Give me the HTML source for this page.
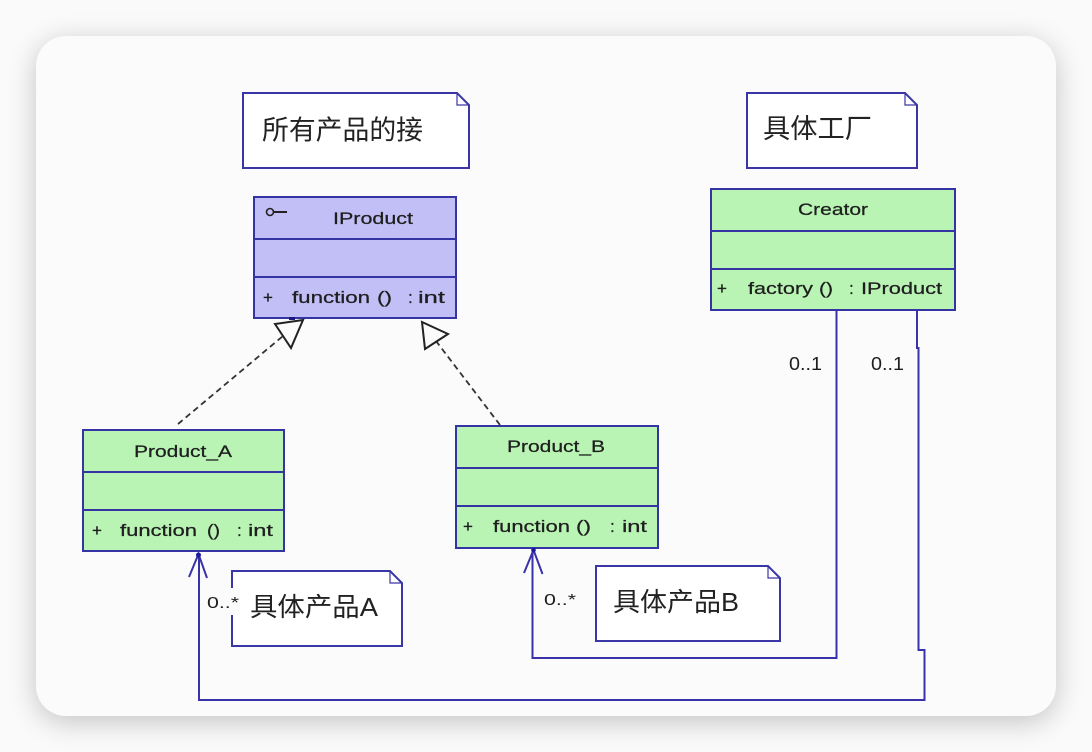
<!DOCTYPE html>
<html>
<head>
<meta charset="utf-8">
<style>
  html,body{margin:0;padding:0;}
  body{width:1092px;height:752px;background:#fafafa;position:relative;overflow:hidden;}
  .card{position:absolute;left:36px;top:36px;width:1020px;height:680px;border-radius:30px;background:#fbfbfb;box-shadow:0 6px 28px rgba(0,0,0,0.22);}
  svg{position:absolute;left:0;top:0;}
  .t{font-family:"Liberation Sans","Noto Sans CJK SC",sans-serif;fill:#1e1e1e;}
  .c{font-size:17px;stroke:#1e1e1e;stroke-width:0.25px;}
  .cjk{font-family:"Liberation Sans","Noto Sans CJK SC",sans-serif;fill:#222;}
</style>
</head>
<body>
<div class="card"></div>
<svg width="1092" height="752" viewBox="0 0 1092 752" xmlns="http://www.w3.org/2000/svg">
  <!-- Notes top -->
  <g fill="#ffffff" stroke="#3a36a6" stroke-width="2">
    <polygon points="243,93 457,93 469,105 469,168 243,168"/>
    <polyline points="457,93 457,105 469,105" fill="none" stroke-width="1.2"/>
    <polygon points="747,93 905,93 917,105 917,168 747,168"/>
    <polyline points="905,93 905,105 917,105" fill="none" stroke-width="1.2"/>
  </g>
  <text class="cjk" x="262" y="139.5" font-size="27" textLength="161" lengthAdjust="spacingAndGlyphs">所有产品的接</text>
  <text class="cjk" x="763" y="138" font-size="27" textLength="109" lengthAdjust="spacingAndGlyphs">具体工厂</text>

  <!-- IProduct -->
  <g stroke="#3434a4" stroke-width="2">
    <rect x="254" y="197" width="202" height="121" fill="#c2bef6"/>
    <line x1="254" y1="239" x2="456" y2="239"/>
    <line x1="254" y1="277" x2="456" y2="277"/>
  </g>
  <circle cx="270" cy="212" r="3.5" fill="none" stroke="#222" stroke-width="1.6"/>
  <line x1="273.5" y1="212" x2="287" y2="212" stroke="#222" stroke-width="2"/>
  <text class="t c" x="333" y="224" textLength="80" lengthAdjust="spacingAndGlyphs">IProduct</text>
  <text class="t c" x="263" y="303">+</text>
  <text class="t c" x="292" y="303" textLength="78" lengthAdjust="spacingAndGlyphs">function</text>
  <text class="t c" x="377" y="303" textLength="15" lengthAdjust="spacingAndGlyphs">()</text>
  <text class="t c" x="408" y="303">:</text>
  <text class="t c" x="418" y="303" textLength="27" lengthAdjust="spacingAndGlyphs">int</text>

  <!-- Creator -->
  <g stroke="#3434a4" stroke-width="2">
    <rect x="711" y="189" width="244" height="121" fill="#b9f4b4"/>
    <line x1="711" y1="231" x2="955" y2="231"/>
    <line x1="711" y1="269" x2="955" y2="269"/>
  </g>
  <text class="t c" x="798" y="215" textLength="70" lengthAdjust="spacingAndGlyphs">Creator</text>
  <text class="t c" x="717" y="294">+</text>
  <text class="t c" x="748" y="294" textLength="65" lengthAdjust="spacingAndGlyphs">factory</text>
  <text class="t c" x="819" y="294" textLength="14" lengthAdjust="spacingAndGlyphs">()</text>
  <text class="t c" x="849" y="294">:</text>
  <text class="t c" x="861" y="294" textLength="81" lengthAdjust="spacingAndGlyphs">IProduct</text>

  <!-- Product_A -->
  <g stroke="#3434a4" stroke-width="2">
    <rect x="83" y="430" width="201" height="121" fill="#b9f4b4"/>
    <line x1="83" y1="472" x2="284" y2="472"/>
    <line x1="83" y1="510" x2="284" y2="510"/>
  </g>
  <text class="t c" x="134" y="457" textLength="98" lengthAdjust="spacingAndGlyphs">Product_A</text>
  <text class="t c" x="92" y="536">+</text>
  <text class="t c" x="120" y="536" textLength="77" lengthAdjust="spacingAndGlyphs">function</text>
  <text class="t c" x="207" y="536" textLength="13" lengthAdjust="spacingAndGlyphs">()</text>
  <text class="t c" x="237" y="536">:</text>
  <text class="t c" x="248" y="536" textLength="25" lengthAdjust="spacingAndGlyphs">int</text>

  <!-- Product_B -->
  <g stroke="#3434a4" stroke-width="2">
    <rect x="456" y="426" width="202" height="122" fill="#b9f4b4"/>
    <line x1="456" y1="468" x2="658" y2="468"/>
    <line x1="456" y1="506" x2="658" y2="506"/>
  </g>
  <text class="t c" x="507" y="452" textLength="98" lengthAdjust="spacingAndGlyphs">Product_B</text>
  <text class="t c" x="463" y="532">+</text>
  <text class="t c" x="493" y="532" textLength="77" lengthAdjust="spacingAndGlyphs">function</text>
  <text class="t c" x="576" y="532" textLength="15" lengthAdjust="spacingAndGlyphs">()</text>
  <text class="t c" x="610" y="532">:</text>
  <text class="t c" x="622" y="532" textLength="25" lengthAdjust="spacingAndGlyphs">int</text>

  <!-- Realization dashed lines + hollow triangles -->
  <g stroke="#333" stroke-width="1.8" stroke-dasharray="6,4" fill="none">
    <line x1="178" y1="424" x2="283" y2="336"/>
    <line x1="500" y1="425" x2="436" y2="341"/>
  </g>
  <g stroke="#222" stroke-width="2" fill="#fbfbfb" stroke-linejoin="miter">
    <polygon points="275,324 291,348 303,320"/>
    <polygon points="448,334 425,349 422,322"/>
  </g>
  <rect x="289" y="317" width="6" height="3" fill="#1a1a80"/>

  <!-- Bottom notes -->
  <g fill="#ffffff" stroke="#3a36a6" stroke-width="2">
    <polygon points="232,571 390,571 402,583 402,646 232,646"/>
    <polyline points="390,571 390,583 402,583" fill="none" stroke-width="1.2"/>
    <polygon points="596,566 768,566 780,578 780,641 596,641"/>
    <polyline points="768,566 768,578 780,578" fill="none" stroke-width="1.2"/>
  </g>
  <rect x="205" y="588" width="35" height="27" fill="#fbfbfb"/>
  <text class="cjk" x="250" y="616" font-size="26" textLength="128" lengthAdjust="spacingAndGlyphs">具体产品A</text>
  <text class="cjk" x="613" y="611" font-size="26" textLength="126" lengthAdjust="spacingAndGlyphs">具体产品B</text>

  <!-- Association lines -->
  <g stroke="#3a32a8" stroke-width="2" fill="none">
    <polyline points="836.5,310 836.5,658 532.5,658 532.5,550"/>
    <polyline points="917,310 917,348 918.5,348 918.5,650 924.5,650 924.5,700 199,700 199,553"/>
    <polyline points="189,577 198.5,554 207,578"/>
    <polyline points="524,573 533.5,550 542.5,574"/>
  </g>
  <circle cx="198.5" cy="555" r="2.5" fill="#1a1a9a"/>
  <circle cx="533.5" cy="550" r="2.3" fill="#1a1a9a"/>

  <!-- Multiplicity labels -->
  <text class="t" x="789" y="370" font-size="18" textLength="33" lengthAdjust="spacingAndGlyphs">0..1</text>
  <text class="t" x="871" y="370" font-size="18" textLength="33" lengthAdjust="spacingAndGlyphs">0..1</text>
  <text class="t" x="207" y="608" font-size="16" textLength="32" lengthAdjust="spacingAndGlyphs">0..*</text>
  <text class="t" x="544" y="605" font-size="16" textLength="32" lengthAdjust="spacingAndGlyphs">0..*</text>
</svg>
</body>
</html>
